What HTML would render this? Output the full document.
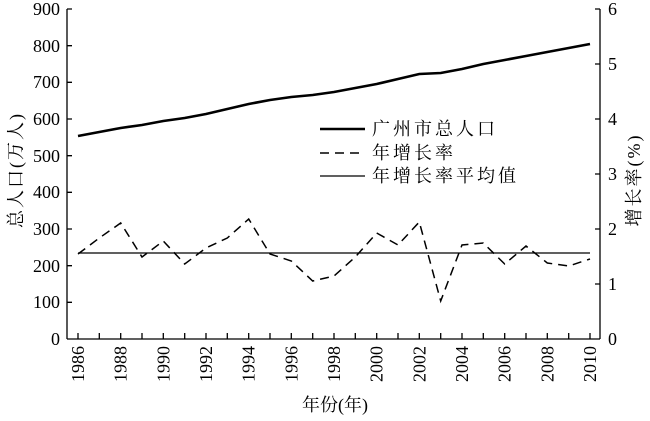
<!DOCTYPE html>
<html><head><meta charset="utf-8"><style>body{margin:0;background:#fff}</style></head><body>
<svg width="650" height="416" xmlns="http://www.w3.org/2000/svg" style="font-family:'Liberation Serif','Noto Serif CJK SC',serif;font-size:18px">
<g stroke="#000" stroke-width="1.3" fill="none">
<line x1="67" y1="9" x2="67" y2="339"/>
<line x1="67" y1="339" x2="600" y2="339"/>
<line x1="600" y1="9" x2="600" y2="339"/>
<path d="M67 9h5M67 45.7h5M67 82.3h5M67 119h5M67 155.7h5M67 192.3h5M67 229h5M67 265.7h5M67 302.3h5"/>
<path d="M600 9h-5M600 64h-5M600 119h-5M600 174h-5M600 229h-5M600 284h-5"/>
<path d="M78 339v-6M99.3 339v-6M120.7 339v-6M142 339v-6M163.3 339v-6M184.7 339v-6M206 339v-6M227.3 339v-6M248.7 339v-6M270 339v-6M291.3 339v-6M312.7 339v-6M334 339v-6M355.3 339v-6M376.7 339v-6M398 339v-6M419.3 339v-6M440.7 339v-6M462 339v-6M483.3 339v-6M504.7 339v-6M526 339v-6M547.3 339v-6M568.7 339v-6M590 339v-6"/>
<polyline stroke-width="2.6" points="78,136 99.3,132 120.7,128 142,125 163.3,121 184.7,118 206,114 227.3,109 248.7,104 270,100 291.3,97 312.7,95 334,92 355.3,88 376.7,84 398,79 419.3,74 440.7,73 462,69 483.3,64 504.7,60 526,56 547.3,52 568.7,48 590,44"/>
<polyline stroke-width="1.5" stroke-dasharray="9,6" points="78,254 99.3,238 120.7,223 142,257 163.3,241 184.7,264 206,248 227.3,238 248.7,219 270,254 291.3,261 312.7,281 334,276 355.3,257 376.7,233 398,245 419.3,222 440.7,301 462,245 483.3,243 504.7,264 526,246 547.3,263 568.7,266 590,259"/>
<line x1="78" y1="253" x2="590" y2="253" stroke-width="1.2"/>
<line x1="320" y1="129" x2="365" y2="129" stroke-width="2.6"/>
<line x1="320" y1="153" x2="365" y2="153" stroke-width="1.5" stroke-dasharray="9,6"/>
<line x1="320" y1="176" x2="365" y2="176" stroke-width="1.2"/>
</g>
<g text-anchor="end">
<text x="60" y="15">900</text><text x="60" y="52">800</text><text x="60" y="88">700</text><text x="60" y="125">600</text><text x="60" y="162">500</text><text x="60" y="198">400</text><text x="60" y="235">300</text><text x="60" y="272">200</text><text x="60" y="308">100</text><text x="60" y="345">0</text>
</g>
<g text-anchor="start">
<text x="608" y="15">6</text><text x="608" y="70">5</text><text x="608" y="125">4</text><text x="608" y="180">3</text><text x="608" y="235">2</text><text x="608" y="290">1</text><text x="608" y="345">0</text>
</g>
<g text-anchor="end">
<text transform="translate(84,346) rotate(-90)">1986</text>
<text transform="translate(126.7,346) rotate(-90)">1988</text>
<text transform="translate(169.3,346) rotate(-90)">1990</text>
<text transform="translate(212,346) rotate(-90)">1992</text>
<text transform="translate(254.7,346) rotate(-90)">1994</text>
<text transform="translate(297.3,346) rotate(-90)">1996</text>
<text transform="translate(340,346) rotate(-90)">1998</text>
<text transform="translate(382.7,346) rotate(-90)">2000</text>
<text transform="translate(425.3,346) rotate(-90)">2002</text>
<text transform="translate(468,346) rotate(-90)">2004</text>
<text transform="translate(510.7,346) rotate(-90)">2006</text>
<text transform="translate(553.3,346) rotate(-90)">2008</text>
<text transform="translate(596,346) rotate(-90)">2010</text>
</g>
<text x="335" y="411" text-anchor="middle">年份(年)</text>
<text transform="translate(22,170) rotate(-90)" text-anchor="middle" letter-spacing="2">总人口(万人)</text>
<text transform="translate(640,180) rotate(-90)" text-anchor="middle" letter-spacing="2">增长率(%)</text>
<text x="372" y="135" letter-spacing="3">广州市总人口</text>
<text x="372" y="159" letter-spacing="3">年增长率</text>
<text x="372" y="182" letter-spacing="3">年增长率平均值</text>
</svg>
</body></html>
